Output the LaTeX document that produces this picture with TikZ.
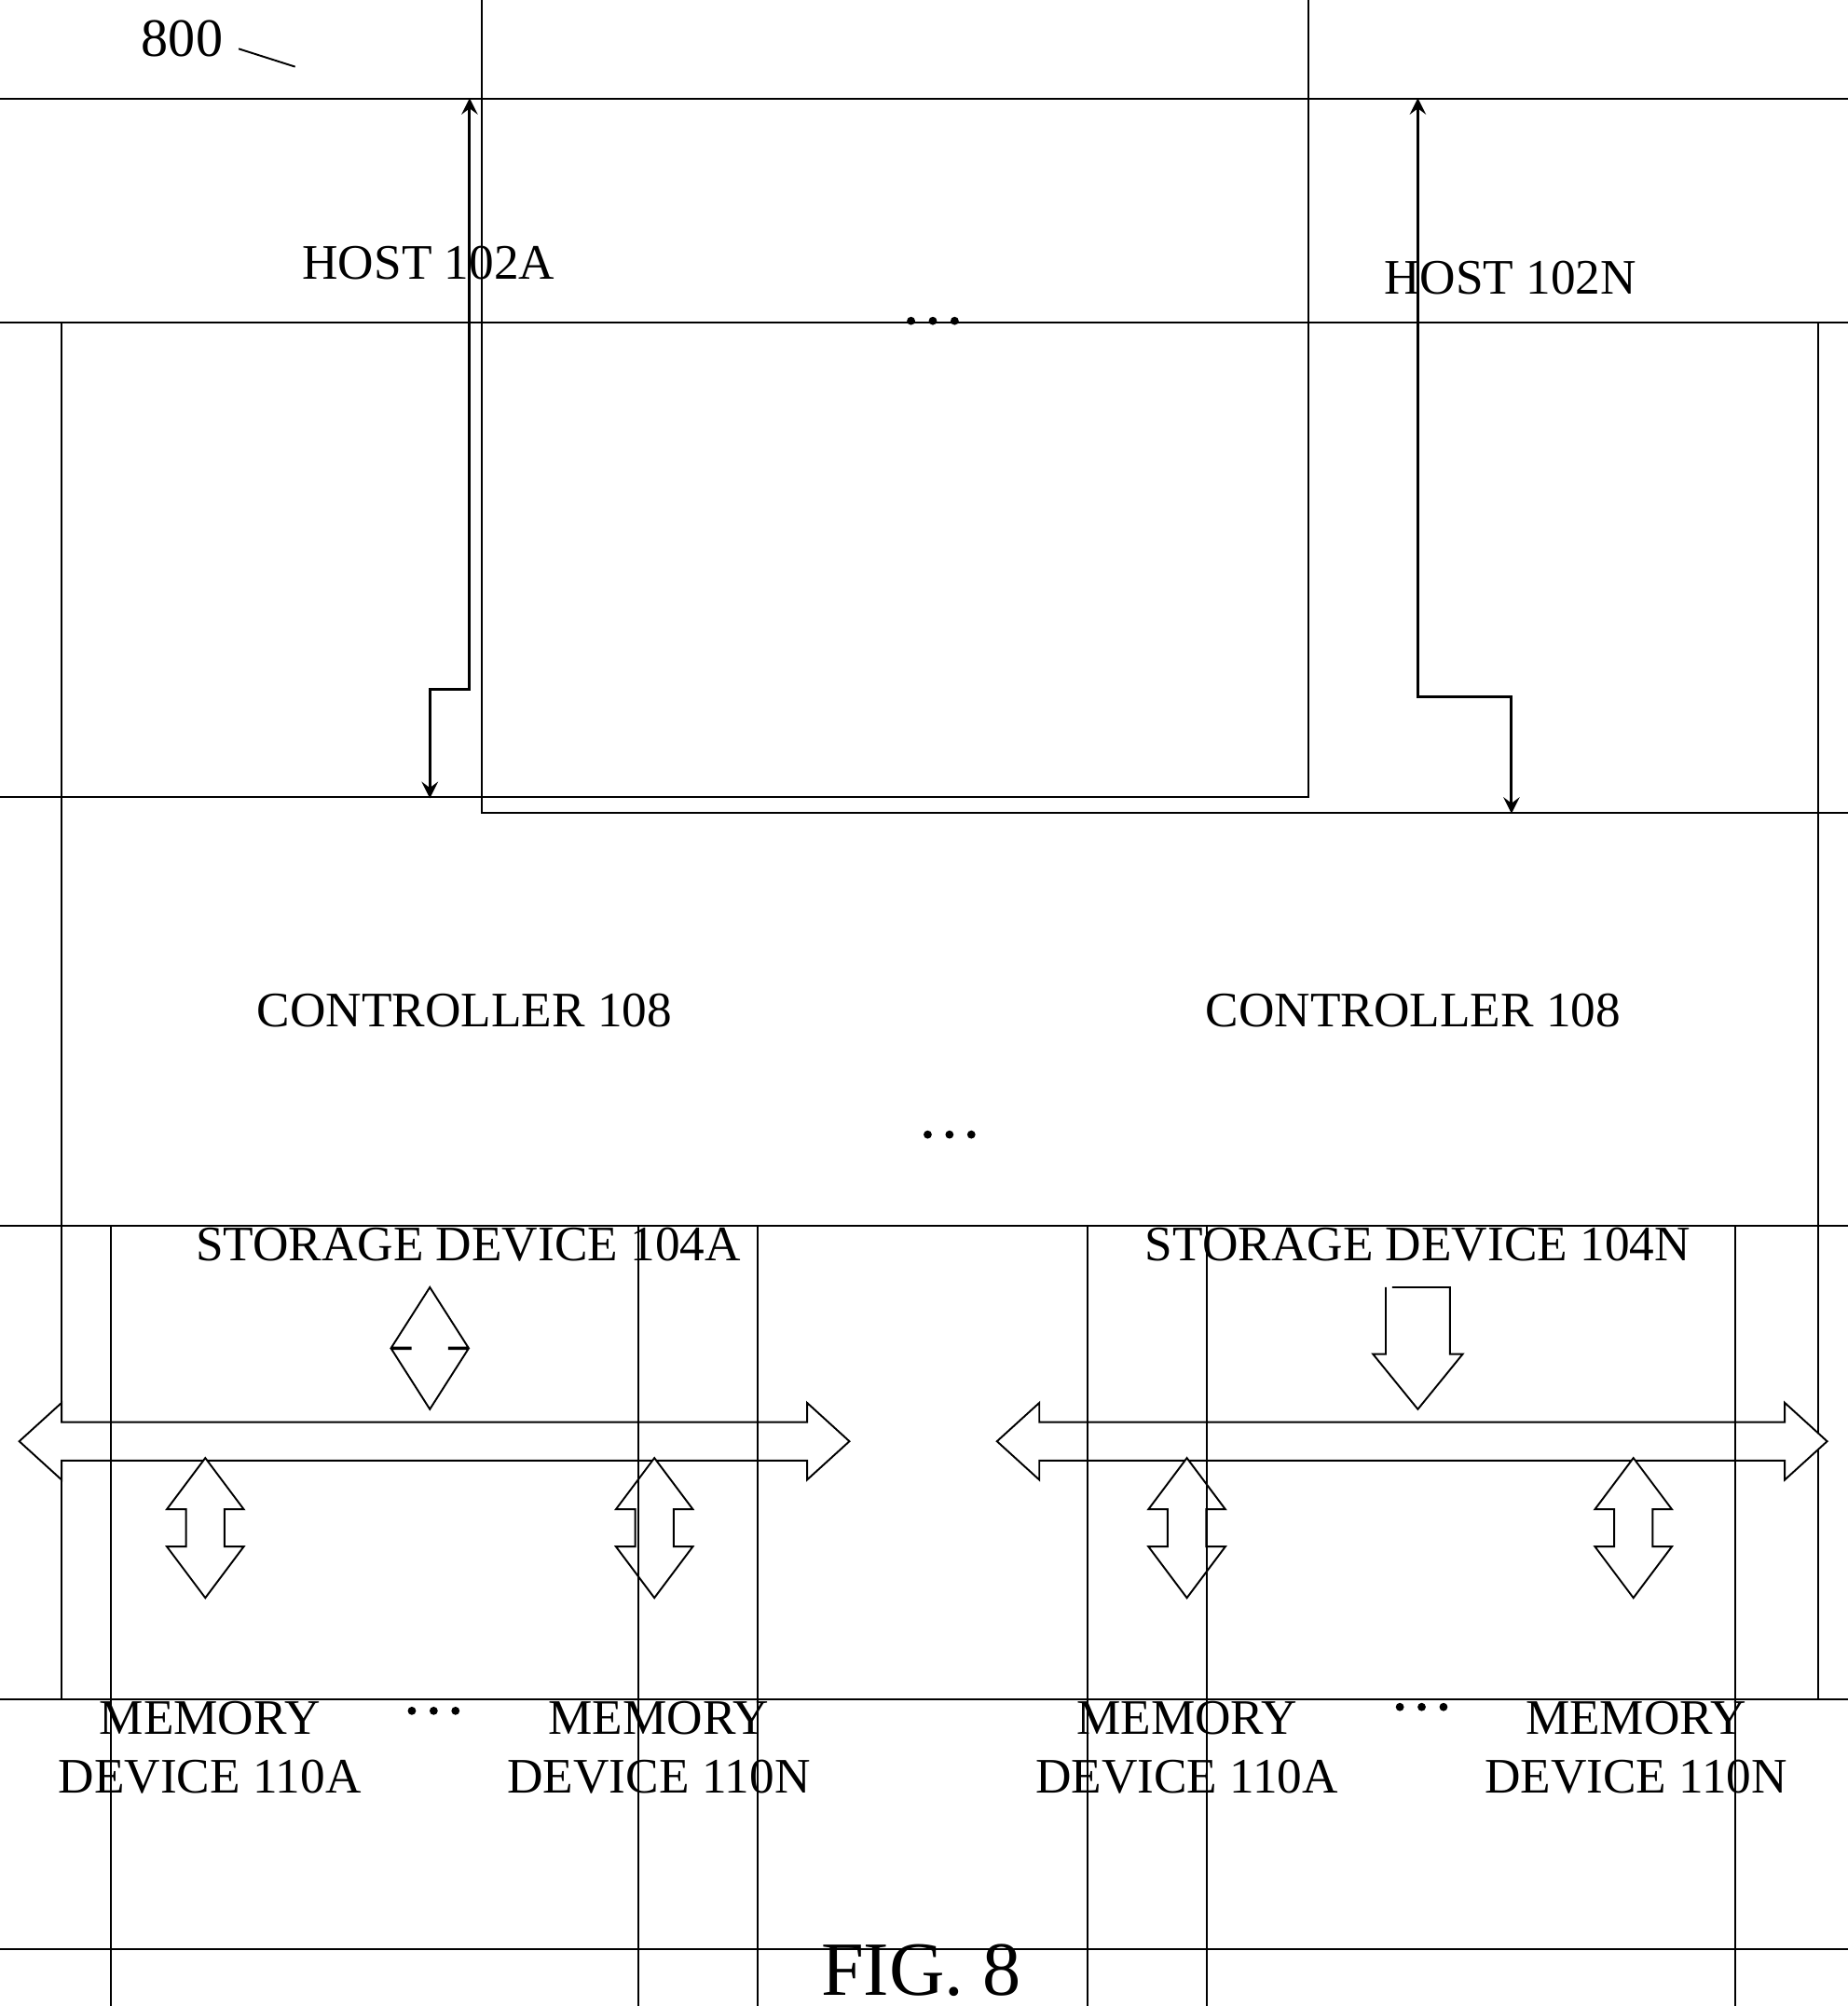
\documentclass[tikz,border=0pt]{standalone}
\usepackage{fontspec}
\setmainfont{Liberation Serif}
\usetikzlibrary{arrows,positioning,calc}
\tikzstyle{box}   = [draw,inner sep=0pt,font=\fontsize{11}{13}\selectfont,align=center]
\tikzstyle{arrow} = [semithick,<->,>=stealth]
\tikzstyle{fat}   = [draw,fill=white,line join=miter]
\newcommand{\threedots}[2]{\foreach \d in {-17,0,17} {\fill (#1+\d,#2) circle (3.2);}}
% double block arrow, vertical: x, top, bottom, head length
\newcommand{\vdbl}[4]{\draw[fat] (#1,#2) -- ++(30,#4) -- ++(-15,0) -- (#1+15,#3-#4) -- ++(15,0) -- (#1,#3) -- ++(-30,-#4) -- ++(15,0) -- (#1-15,#2+#4) -- ++(-15,0) -- cycle;}
% horizontal bus: left, right, y
\newcommand{\hbus}[3]{\draw[fat] (#1,#3) -- ++(33,-30) -- ++(0,15) -- (#2-33,#3-15) -- ++(0,-15) -- (#2,#3) -- ++(-33,30) -- ++(0,-15) -- (#1+33,#3+15) -- ++(0,15) -- cycle;}
\begin{document}
\begin{tikzpicture}[x=0.01cm,y=-0.01cm]
    \useasboundingbox (0,0) rectangle (1440,1563);
    \node at (142,30) {\fontsize{12}{14}\selectfont 800};
    \draw (186,38) -- (230,52);

    \node[box,minimum width=390,minimum height=237] (hostA) at (334,204.5) {HOST 102A};
    \node[box,minimum width=456,minimum height=237] (hostN) at (1177,216.5) {HOST 102N};
    \threedots{727}{250}

    \node[box,minimum width=646,minimum height=410] (stA) at (365,798) {};
    \node[box,minimum width=600,minimum height=305] (ctlA) at (362,787.5) {CONTROLLER 108};
    \node[font=\fontsize{11}{13}\selectfont] (labA) at (365,970) {STORAGE DEVICE 104A};
    \node[box,minimum width=646,minimum height=410] (stN) at (1105,798) {};
    \node[box,minimum width=599,minimum height=305] (ctlN) at (1101.5,787.5) {CONTROLLER 108};
    \node[font=\fontsize{11}{13}\selectfont] (labN) at (1105,970) {STORAGE DEVICE 104N};
    \threedots{740}{884}

    \coordinate (a1) at (335,537);
    \coordinate (a2) at (366,537);
    \draw[arrow] (hostA.south -| a1) -- (a1) -- (a2) -- (a2 |- stA.north);
    \coordinate (n1) at (1178,543);
    \coordinate (n2) at (1105,543);
    \draw[arrow] (hostN.south -| n1) -- (n1) -- (n2) -- (n2 |- stN.north);

    % buses
    \hbus{15}{662}{1123}
    \hbus{777}{1424}{1123}
    \vdbl{335}{1003}{1098}{47}
    \draw[fat] (1085,1003) -- (1130,1003) -- (1130,1055) -- (1140,1055) -- (1105,1098) -- (1070,1055) -- (1080,1055) -- (1080,1003);
    \foreach \x in {160,510,925,1273} {\vdbl{\x}{1136}{1245}{40}}

    % memory devices
    \foreach \x/\n [count=\i] in {163.5/A,513.5/N,925/A,1275/N} {
        \node[box,minimum width=243,minimum height=231] (mem\i) at (\x,1361.5) {MEMORY\\DEVICE 110\n};
    }
    \threedots{338}{1333}
    \threedots{1108}{1330}

    \node at (718,1535) {\fontsize{17}{20}\selectfont FIG. 8};
\end{tikzpicture}
\end{document}
